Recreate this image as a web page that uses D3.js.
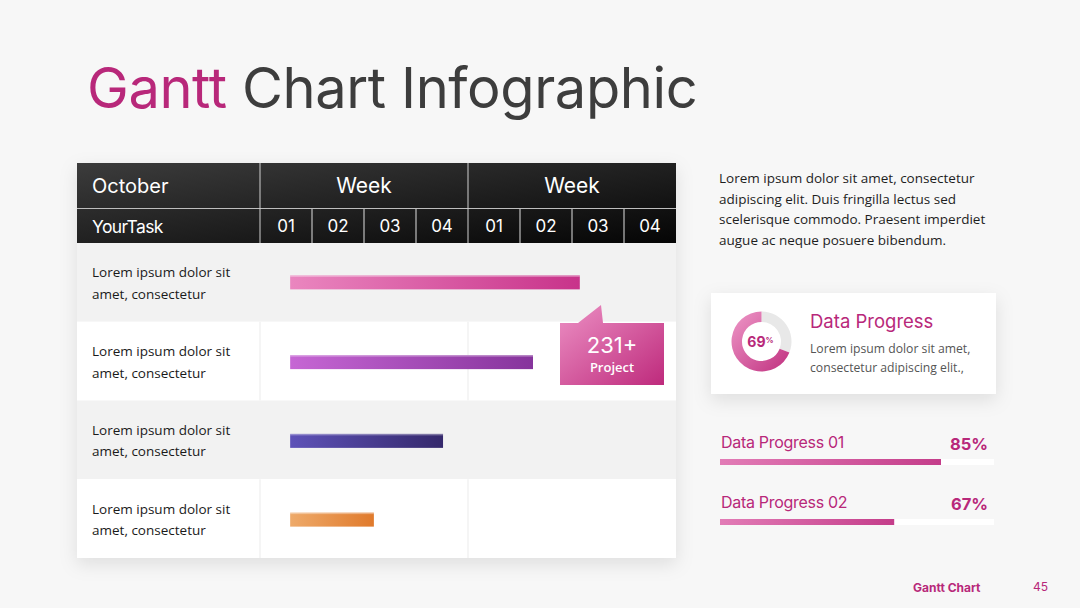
<!DOCTYPE html>
<html><head><meta charset="utf-8">
<script src="https://cdn.jsdelivr.net/npm/d3@7/dist/d3.min.js"></script>
<style>body{margin:0;background:#f7f7f7;}svg{display:block;}</style>
</head><body>
<svg id="c" width="1080" height="608"></svg>
<script>
// ---- data ----
const headTop = ["October", "Week", "Week"];
const headSub = ["01","02","03","04","01","02","03","04"];
const taskLabels = [
  ["Lorem ipsum dolor sit","amet, consectetur"],
  ["Lorem ipsum dolor sit","amet, consectetur"],
  ["Lorem ipsum dolor sit","amet, consectetur"],
  ["Lorem ipsum dolor sit","amet, consectetur"]
];
const taskStart = [0.58, 0.58, 0.58, 0.58];   // in weeks
const taskEnd   = [6.15, 5.25, 3.52, 2.19];   // in weeks
const taskColors = [["#ea86bf","#c8338a"],["#c666d4","#86349c"],["#5e52b8","#35296c"],["#eeaa6a","#e07a2c"]];
const calloutValue = "231+";
const calloutLabel = "Project";
const paragraph = ["Lorem ipsum dolor sit amet, consectetur","adipiscing elit. Duis fringilla lectus sed","scelerisque commodo. Praesent imperdiet","augue ac neque posuere bibendum."];
const donutValue = 69;
const donutTitle = "Data Progress";
const donutText = ["Lorem ipsum dolor sit amet,","consectetur adipiscing elit.,"];
const progressLabels = ["Data Progress 01","Data Progress 02"];
const progressValues = [85, 67];
const footerTitle = "Gantt Chart";
const pageNum = "45";

// ---- drawing ----
const svg = d3.select("#c");
const defs = svg.append("defs");
const MAG = "#b8287a";
const SANS = "Inter, 'Noto Sans', sans-serif";
const BODY = "'Open Sans', 'Noto Sans', sans-serif";

svg.append("rect").attr("width",1080).attr("height",608).attr("fill","#f7f7f7");

// shadow filter
const f = defs.append("filter").attr("id","sh").attr("x","-20%").attr("y","-20%").attr("width","140%").attr("height","150%");
f.append("feDropShadow").attr("dx",0).attr("dy",6).attr("stdDeviation",9).attr("flood-color","#000").attr("flood-opacity",0.10);

function lg(id, c0, c1, x2=1, y2=0){
  const g = defs.append("linearGradient").attr("id",id).attr("x1",0).attr("y1",0).attr("x2",x2).attr("y2",y2);
  g.append("stop").attr("offset",0).attr("stop-color",c0);
  g.append("stop").attr("offset",1).attr("stop-color",c1);
  return `url(#${id})`;
}

// Title
const title = svg.append("text").attr("x",87).attr("y",108).attr("font-family",SANS).attr("font-size",56).attr("font-weight",400).attr("letter-spacing",-0.4);
title.append("tspan").attr("fill",MAG).text("Gantt");
title.append("tspan").attr("fill","#3d3d3d").text(" Chart Infographic");

// Table geometry
const tX0 = 77, tX1 = 676, col1 = 260;
const x = d3.scaleLinear().domain([0, headSub.length]).range([col1, tX1]);
const rowY = d3.scaleBand().domain(d3.range(taskLabels.length)).range([243, 558]);

const table = svg.append("g");
table.append("rect").attr("x",tX0).attr("y",163).attr("width",tX1-tX0).attr("height",558-163).attr("fill","#fff").attr("filter","url(#sh)");

// body rows
rowY.domain().forEach(i=>{
  table.append("rect").attr("x",tX0).attr("y",rowY(i)).attr("width",tX1-tX0).attr("height",rowY.bandwidth())
    .attr("fill", i%2===0 ? "#f2f2f2" : "#ffffff");
  if(i%2===1){
    [col1, x(4)].forEach(xx=>table.append("line").attr("x1",xx).attr("x2",xx).attr("y1",rowY(i)).attr("y2",rowY(i)+rowY.bandwidth()).attr("stroke","#ebebeb").attr("stroke-width",1));
  }
  const lab = table.append("text").attr("font-family",BODY).attr("font-size",13.5).attr("fill","#1a1a1a");
  taskLabels[i].forEach((t,k)=>lab.append("tspan").attr("x",92).attr("y",rowY(i)+rowY.bandwidth()/2 - 5 + k*21.5).text(t));
});

// header
const hg = lg("hdr","#3c3c3c","#050505",1,1);
table.append("rect").attr("x",tX0).attr("y",163).attr("width",tX1-tX0).attr("height",80).attr("fill",hg);
table.append("line").attr("x1",tX0).attr("x2",tX1).attr("y1",208.5).attr("y2",208.5).attr("stroke","#bdbdbd").attr("stroke-width",1.2);
[col1, x(4)].forEach(xx=>table.append("line").attr("x1",xx).attr("x2",xx).attr("y1",163).attr("y2",243).attr("stroke","#d0d0d0").attr("stroke-width",1));
d3.range(1,headSub.length).filter(k=>k!==4).forEach(k=>table.append("line").attr("x1",x(k)).attr("x2",x(k)).attr("y1",209).attr("y2",243).attr("stroke","#e0e0e0").attr("stroke-width",1));

table.append("text").attr("x",92).attr("y",193).attr("font-family",SANS).attr("font-size",20).attr("fill","#fff").text(headTop[0]);
[1,2].forEach(k=>table.append("text").attr("x",x((k-1)*4+2)).attr("y",193).attr("text-anchor","middle").attr("font-family",SANS).attr("font-size",21).attr("fill","#fff").text(headTop[k]));
table.append("text").attr("x",92).attr("y",233).attr("font-family",SANS).attr("font-size",17.5).attr("letter-spacing",-0.6).attr("fill","#fff").text("YourTask");
headSub.forEach((t,k)=>table.append("text").attr("x",x(k+0.5)).attr("y",232).attr("text-anchor","middle").attr("font-family",SANS).attr("font-size",17).attr("fill","#fff").text(t));

// bars
const barH = 14;
taskStart.forEach((s,i)=>{
  const fill = lg("bar"+i, taskColors[i][0], taskColors[i][1]);
  const yC = rowY(i) + rowY.bandwidth()/2;
  const by = yC - barH/2 + (i===0 ? 0 : 1);
  svg.append("rect").attr("x",x(s)).attr("y",by).attr("width",x(taskEnd[i])-x(s)).attr("height",barH).attr("fill",fill);
  svg.append("rect").attr("x",x(s)).attr("y",by).attr("width",x(taskEnd[i])-x(s)).attr("height",1.5).attr("fill","#fff").attr("opacity",0.35);
});

// callout
const cg = lg("call","#ec90c4","#be2a7c",1,1);
const cx0 = 560, cy0 = 323, cw = 104, ch = 62;
svg.append("path").attr("d",`M${cx0},${cy0} L578,${cy0} L601,305 L603,${cy0} L${cx0+cw},${cy0} L${cx0+cw},${cy0+ch} L${cx0},${cy0+ch} Z`).attr("fill",cg);
svg.append("text").attr("x",cx0+cw/2).attr("y",353).attr("text-anchor","middle").attr("font-family",SANS).attr("font-size",22).attr("fill","#fff").text(calloutValue);
svg.append("text").attr("x",cx0+cw/2).attr("y",372).attr("text-anchor","middle").attr("font-family",BODY).attr("font-size",13).attr("font-weight",600).attr("fill","#fff").text(calloutLabel);

// paragraph
const para = svg.append("text").attr("font-family",BODY).attr("font-size",13.5).attr("fill","#1e1e1e");
paragraph.forEach((t,k)=>para.append("tspan").attr("x",719).attr("y",183+k*20.7).text(t));

// donut card
svg.append("rect").attr("x",711).attr("y",293).attr("width",285).attr("height",101).attr("fill","#fff").attr("filter","url(#sh)");
const dc = svg.append("g").attr("transform","translate(761.5,341.5)");
const arc = d3.arc().innerRadius(19.5).outerRadius(30);
const split = (1 - donutValue/100) * 2*Math.PI;
dc.append("path").attr("d",arc({startAngle:0,endAngle:split})).attr("fill","#e8e8e8");
const dg = lg("don","#ee98c8","#c0307f",1,1);
dc.append("path").attr("d",arc({startAngle:split,endAngle:2*Math.PI})).attr("fill",dg);
const dt = dc.append("text").attr("x",-1).attr("y",5).attr("text-anchor","middle").attr("font-family",SANS).attr("font-weight",700).attr("fill",MAG);
dt.append("tspan").attr("font-size",14).text(donutValue);
dt.append("tspan").attr("font-size",8).attr("dy",-4).text("%");
svg.append("text").attr("x",810).attr("y",328).attr("font-family",SANS).attr("font-size",18.5).attr("fill",MAG).text(donutTitle);
const dtx = svg.append("text").attr("font-family",BODY).attr("font-size",12.2).attr("fill","#555");
donutText.forEach((t,k)=>dtx.append("tspan").attr("x",810).attr("y",353+k*19).text(t));

// progress bars
const px = d3.scaleLinear().domain([0,100]).range([720, 980]);
progressValues.forEach((v,i)=>{
  const y0 = 448 + i*60;
  svg.append("text").attr("x",721).attr("y",y0).attr("font-family",SANS).attr("font-size",16).attr("letter-spacing",-0.3).attr("fill",MAG).text(progressLabels[i]);
  svg.append("text").attr("x",988).attr("y",y0+2).attr("text-anchor","end").attr("font-family",SANS).attr("font-weight",700).attr("font-size",16.5).attr("fill",MAG).text(v+"%");
  svg.append("rect").attr("x",720).attr("y",y0+11).attr("width",274).attr("height",6).attr("fill","#fff");
  svg.append("rect").attr("x",px(0)).attr("y",y0+11).attr("width",px(v)-px(0)).attr("height",6).attr("fill",lg("pg"+i,"#e27cb6","#c43d8a"));
});

// footer
svg.append("text").attr("x",913).attr("y",592).attr("font-family",SANS).attr("font-weight",700).attr("font-size",12).attr("fill",MAG).text(footerTitle);
svg.append("text").attr("x",1048).attr("y",591).attr("text-anchor","end").attr("font-family",SANS).attr("font-size",12).attr("fill",MAG).text(pageNum);
</script>
</body></html>
